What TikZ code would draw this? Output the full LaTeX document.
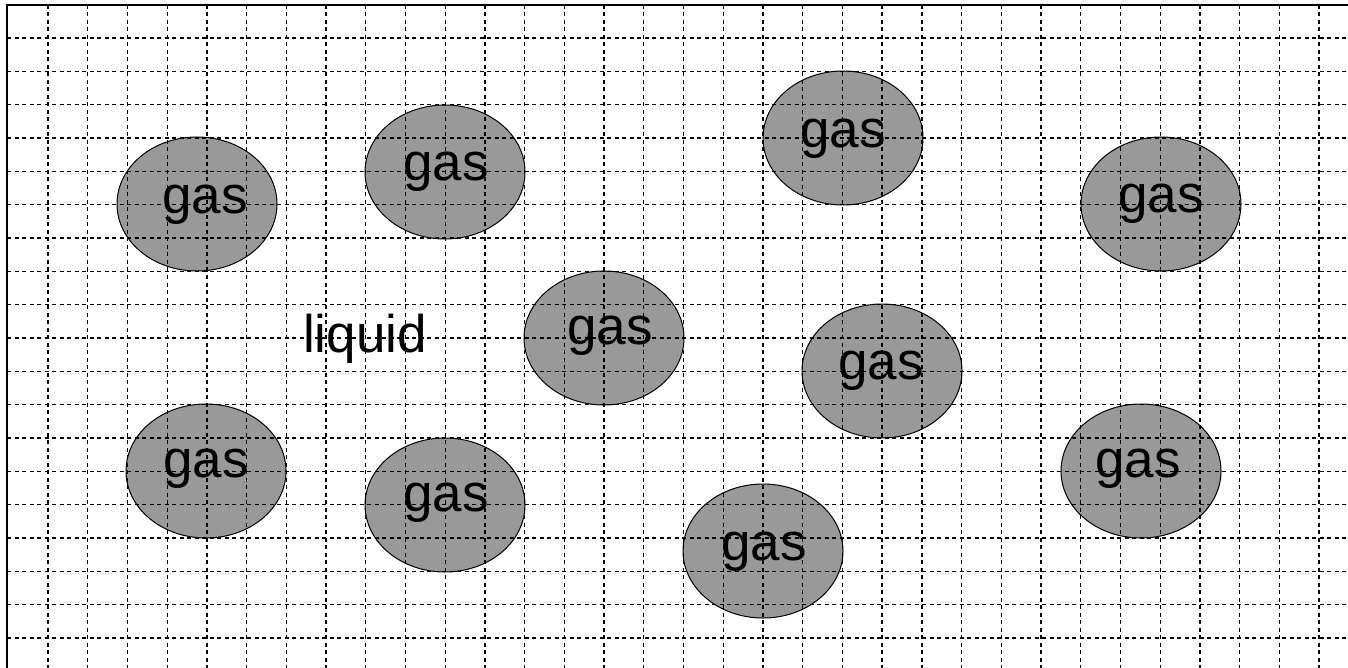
\documentclass[tikz,border=0pt]{standalone}
\usepackage{fontspec}
\setmainfont{Liberation Sans}
\usetikzlibrary{shapes.geometric}
\definecolor{bubblegray}{RGB}{153,153,153}
\begin{document}
\begin{tikzpicture}[x=1pt,y=-1pt,
  bubble/.style={ellipse,draw=black,line width=1pt,fill=bubblegray,minimum width=160pt,minimum height=134pt,inner sep=0pt},
  lbl/.style={font=\fontsize{53}{60}\selectfont,inner sep=0pt,anchor=center},
  gridline/.style={line width=1.3pt,dash pattern=on 4pt off 3.5pt},
  frameline/.style={line width=2.2pt}]
\useasboundingbox (0,0) rectangle (1348,668);
\fill[white] (0,0) rectangle (1348,668);
% gas bubbles
\node[bubble] (e1) at (197,204) {};
\node[bubble] (e2) at (445,172) {};
\node[bubble] (e3) at (843,138) {};
\node[bubble] (e4) at (1161,204) {};
\node[bubble] (e5) at (604,338) {};
\node[bubble] (e6) at (882,371) {};
\node[bubble] (e7) at (206,471) {};
\node[bubble] (e8) at (445,505) {};
\node[bubble] (e9) at (763,551) {};
\node[bubble] (e10) at (1141,471) {};
% labels
\node[lbl] (t1) at (205,204.5) {gas};
\node[lbl] (t2) at (446,171.5) {gas};
\node[lbl] (t3) at (843,138.5) {gas};
\node[lbl] (t4) at (1161,203.5) {gas};
\node[lbl] (t5) at (610,335.5) {gas};
\node[lbl] (t6) at (881,370.5) {gas};
\node[lbl] (t7) at (206,468.5) {gas};
\node[lbl] (t8) at (446,502.5) {gas};
\node[lbl] (t9) at (764,552) {gas};
\node[lbl] (t10) at (1138,468.5) {gas};
\node[lbl] (liq) at (365,338.5) {liquid};
% grid
\foreach \i in {0,...,32} \draw[gridline] ({48+39.72*\i},5) -- ({48+39.72*\i},668);
\foreach \j in {0,...,18} \draw[gridline] (7,{38+33.33*\j}) -- (1348,{38+33.33*\j});
% frame
\draw[frameline] (7,668) -- (7,5) -- (1348,5);
\end{tikzpicture}
\end{document}
